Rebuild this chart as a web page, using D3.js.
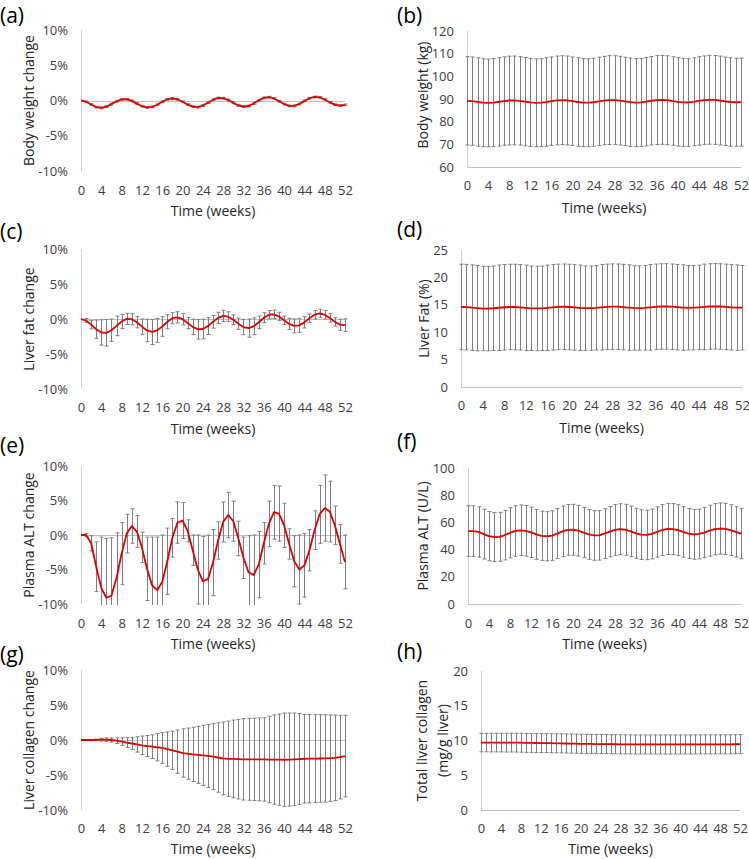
<!DOCTYPE html>
<html><head><meta charset="utf-8">
<script src="https://cdn.jsdelivr.net/npm/d3@7/dist/d3.min.js"></script>
<style>body{margin:0;background:#fff}svg{display:block}</style>
</head><body><svg id="chart" width="749" height="859"></svg>
<script>
// ---------------- DATA ----------------
const weeks = [0,1,2,3,4,5,6,7,8,9,10,11,12,13,14,15,16,17,18,19,20,21,22,23,24,25,26,27,28,29,30,31,32,33,34,35,36,37,38,39,40,41,42,43,44,45,46,47,48,49,50,51,52];
const xTickValues = [0,4,8,12,16,20,24,28,32,36,40,44,48,52];
const pctTicks = [-10,-5,0,5,10];
const bwTicks = [60,70,80,90,100,110,120];
const fatTicks = [0,5,10,15,20,25];
const altTicks = [0,20,40,60,80,100];
const collTicks = [0,5,10,15,20];

// (a) body weight change (%)
const bwChangeMean = [0,-0.17,-0.57,-0.94,-1.05,-0.87,-0.51,-0.11,0.15,0.18,-0.05,-0.44,-0.81,-0.99,-0.91,-0.6,-0.18,0.17,0.3,0.17,-0.18,-0.59,-0.88,-0.94,-0.71,-0.31,0.11,0.36,0.33,0.07,-0.33,-0.7,-0.87,-0.78,-0.43,0.03,0.38,0.47,0.29,-0.1,-0.5,-0.77,-0.76,-0.5,-0.07,0.32,0.51,0.44,0.14,-0.26,-0.59,-0.72,-0.62];
const bwChangeSd = [0,0.1,0.12,0.12,0.13,0.13,0.12,0.12,0.12,0.12,0.12,0.12,0.13,0.13,0.13,0.12,0.12,0.12,0.12,0.12,0.12,0.12,0.13,0.13,0.13,0.12,0.12,0.12,0.12,0.12,0.12,0.12,0.13,0.13,0.12,0.12,0.12,0.12,0.12,0.12,0.12,0.13,0.13,0.12,0.12,0.12,0.12,0.12,0.12,0.12,0.12,0.12,0.12];
// (b) body weight (kg)
const bwMean = [89.2,89.05,88.69,88.36,88.26,88.42,88.75,89.1,89.33,89.36,89.16,88.81,88.48,88.32,88.39,88.66,89.04,89.35,89.47,89.35,89.04,88.67,88.42,88.36,88.57,88.92,89.3,89.52,89.49,89.26,88.91,88.58,88.42,88.5,88.82,89.23,89.54,89.62,89.46,89.11,88.75,88.51,88.52,88.75,89.14,89.49,89.65,89.59,89.32,88.97,88.67,88.56,88.65];
const bwSd = [19.5,19.5,19.5,19.4,19.4,19.4,19.5,19.5,19.6,19.6,19.5,19.5,19.4,19.4,19.4,19.5,19.5,19.6,19.6,19.6,19.5,19.5,19.4,19.4,19.4,19.5,19.5,19.6,19.6,19.6,19.5,19.5,19.4,19.4,19.5,19.5,19.6,19.6,19.6,19.5,19.5,19.4,19.4,19.4,19.5,19.5,19.6,19.6,19.6,19.5,19.5,19.4,19.4];
// (c) liver fat change (%)
const fatChangeMean = [0,-0.22,-0.8,-1.46,-1.92,-1.97,-1.6,-0.98,-0.35,0.02,-0.03,-0.46,-1.09,-1.64,-1.85,-1.63,-1.07,-0.4,0.11,0.24,-0.03,-0.57,-1.13,-1.47,-1.43,-1.01,-0.4,0.16,0.44,0.33,-0.11,-0.68,-1.15,-1.3,-1.04,-0.47,0.18,0.62,0.67,0.36,-0.18,-0.7,-0.98,-0.9,-0.48,0.11,0.61,0.8,0.62,0.15,-0.41,-0.81,-0.88];
const fatChangeSd = [0,0.3,0.6,1.3,1.8,1.9,1.6,1.4,1.0,0.8,0.8,0.8,1.1,1.6,1.8,1.7,1.4,1.0,0.8,0.8,0.8,0.8,1.1,1.4,1.4,1.2,0.9,0.8,0.8,0.7,0.7,0.8,1.1,1.3,1.2,0.9,0.7,0.6,0.6,0.6,0.6,0.8,1.0,1.0,0.8,0.6,0.6,0.6,0.6,0.6,0.6,0.8,0.9];
// (d) liver fat (%)
const fatMean = [14.6,14.57,14.48,14.39,14.32,14.31,14.37,14.46,14.55,14.6,14.6,14.53,14.44,14.36,14.33,14.36,14.44,14.54,14.62,14.64,14.6,14.52,14.44,14.39,14.39,14.45,14.54,14.62,14.66,14.65,14.58,14.5,14.43,14.41,14.45,14.53,14.63,14.69,14.7,14.65,14.57,14.5,14.46,14.47,14.53,14.62,14.69,14.72,14.69,14.62,14.54,14.48,14.47];
const fatSd = [7.8,7.8,7.8,7.8,7.7,7.7,7.7,7.8,7.8,7.8,7.8,7.8,7.8,7.7,7.7,7.7,7.8,7.8,7.8,7.8,7.8,7.8,7.8,7.7,7.7,7.7,7.8,7.8,7.8,7.8,7.8,7.8,7.7,7.7,7.7,7.8,7.8,7.8,7.8,7.8,7.8,7.8,7.7,7.7,7.7,7.8,7.8,7.8,7.8,7.8,7.8,7.8,7.7];
// (e) plasma ALT change (%)
const altChangeMean = [0,0,-1.2,-4.6,-7.7,-9.1,-8.8,-6.2,-2.7,0.2,1.3,0.5,-1.8,-4.9,-7.3,-8.0,-6.8,-3.8,-0.4,1.8,2.1,0.6,-2.2,-5.0,-6.7,-6.4,-4.0,-0.8,1.9,2.9,2.0,-0.5,-3.3,-5.4,-5.8,-4.3,-1.2,1.6,3.3,3.1,1.4,-1.3,-3.8,-5.0,-4.4,-2.2,0.7,3.0,3.9,3.4,1.4,-1.3,-3.9];
const altChangeSd = [0,0.2,1.1,3.6,7.4,8.6,8.4,6.5,4.5,2.8,2.5,2.3,2.2,4.6,7.0,7.7,6.8,4.8,2.8,3.0,2.6,1.6,2.2,5.0,6.5,6.4,4.8,2.7,2.9,3.3,2.9,2.5,3.0,5.3,5.8,4.8,3.0,3.3,3.9,4.0,3.2,2.2,3.7,5.0,4.6,3.0,2.8,4.2,4.8,4.4,2.8,2.8,3.9];
// (f) plasma ALT (U/L)
const altMean = [53.6,53.6,53.0,51.4,49.9,49.2,49.4,50.6,52.3,53.7,54.2,53.8,52.7,51.2,50.1,49.8,50.3,51.8,53.4,54.5,54.6,53.9,52.5,51.2,50.4,50.5,51.7,53.2,54.5,55.0,54.6,53.4,52.0,51.0,50.8,51.5,53.0,54.4,55.2,55.1,54.3,53.0,51.8,51.2,51.5,52.5,53.9,55.0,55.5,55.2,54.3,53.0,51.7];
const altSd = [18.6,18.6,18.5,18.3,18.1,18.0,18.0,18.2,18.4,18.6,18.6,18.6,18.5,18.3,18.1,18.1,18.2,18.4,18.6,18.6,18.7,18.6,18.5,18.3,18.2,18.2,18.3,18.5,18.7,18.7,18.7,18.6,18.4,18.3,18.2,18.3,18.5,18.7,18.8,18.8,18.7,18.6,18.4,18.3,18.3,18.5,18.7,18.8,18.8,18.8,18.7,18.5,18.4];
// (g) liver collagen change (%)
const collChangeMean = [0,0,0,0.02,0.05,0.05,0,-0.1,-0.24,-0.37,-0.5,-0.63,-0.76,-0.86,-0.95,-1.04,-1.14,-1.3,-1.48,-1.67,-1.86,-1.96,-2.05,-2.12,-2.19,-2.28,-2.38,-2.5,-2.62,-2.68,-2.71,-2.74,-2.76,-2.76,-2.76,-2.77,-2.78,-2.79,-2.8,-2.81,-2.82,-2.8,-2.76,-2.72,-2.68,-2.66,-2.65,-2.64,-2.62,-2.6,-2.55,-2.45,-2.3];
const collChangeSd = [0,0.02,0.05,0.1,0.2,0.25,0.3,0.4,0.55,0.7,0.86,1.1,1.33,1.5,1.69,1.95,2.19,2.45,2.74,3.1,3.45,3.66,3.88,4.08,4.29,4.5,4.72,4.96,5.2,5.38,5.55,5.68,5.81,5.85,5.88,5.92,5.96,6.17,6.38,6.52,6.67,6.65,6.62,6.48,6.33,6.3,6.28,6.26,6.24,6.18,6.11,5.97,5.83];
// (h) total liver collagen (mg/g liver)
const collMean = [9.7,9.7,9.7,9.7,9.7,9.7,9.7,9.69,9.68,9.66,9.65,9.64,9.63,9.62,9.61,9.6,9.59,9.57,9.56,9.54,9.52,9.51,9.5,9.49,9.49,9.48,9.47,9.46,9.45,9.44,9.44,9.43,9.43,9.43,9.43,9.43,9.43,9.43,9.43,9.43,9.43,9.43,9.43,9.44,9.44,9.44,9.44,9.44,9.45,9.45,9.45,9.46,9.48];
const collSd = [1.33,1.33,1.34,1.34,1.34,1.35,1.35,1.35,1.36,1.36,1.36,1.36,1.36,1.36,1.37,1.37,1.37,1.37,1.37,1.37,1.37,1.37,1.37,1.37,1.37,1.37,1.37,1.37,1.37,1.37,1.37,1.37,1.37,1.37,1.37,1.37,1.37,1.37,1.37,1.37,1.37,1.37,1.37,1.37,1.37,1.37,1.37,1.37,1.37,1.37,1.37,1.37,1.37];

// ---------------- LAYOUT ----------------
const FONT = '"Open Sans", "Noto Sans", sans-serif';
const panels = [
  {letter:'(a)', mean:bwChangeMean, sd:bwChangeSd, ticks:pctTicks, pct:true, title:['Body weight change'],
   box:{x0:81,x1:345,y0:30,y1:171}, titleX:28, letterX:0, letterY:16, xTickY:190, xTitleY:210},
  {letter:'(b)', mean:bwMean, sd:bwSd, ticks:bwTicks, pct:false, title:['Body weight (kg)'],
   box:{x0:467,x1:741,y0:31,y1:167}, titleX:422, titleY:95, letterX:397, letterY:16, xTickY:185, xTitleY:207},
  {letter:'(c)', mean:fatChangeMean, sd:fatChangeSd, ticks:pctTicks, pct:true, title:['Liver fat change'],
   box:{x0:81,x1:345,y0:249,y1:389}, titleX:28, letterX:0, letterY:232, xTickY:407, xTitleY:428},
  {letter:'(d)', mean:fatMean, sd:fatSd, ticks:fatTicks, pct:false, title:['Liver Fat (%)'],
   box:{x0:461,x1:742,y0:250,y1:387}, titleX:423, letterX:397, letterY:230, xTickY:405, xTitleY:427},
  {letter:'(e)', mean:altChangeMean, sd:altChangeSd, ticks:pctTicks, pct:true, title:['Plasma ALT change'],
   box:{x0:81,x1:345,y0:466,y1:604}, titleX:28, letterX:0, letterY:446, xTickY:623, xTitleY:643},
  {letter:'(f)', mean:altMean, sd:altSd, ticks:altTicks, pct:false, title:['Plasma ALT (U/L)'],
   box:{x0:468,x1:741,y0:468,y1:604}, titleX:422, letterX:397, letterY:442, xTickY:623, xTitleY:643},
  {letter:'(g)', mean:collChangeMean, sd:collChangeSd, ticks:pctTicks, pct:true, title:['Liver collagen change'],
   box:{x0:81,x1:345,y0:670,y1:810}, titleX:28, letterX:0, letterY:655, xTickY:828, xTitleY:848},
  {letter:'(h)', mean:collMean, sd:collSd, ticks:collTicks, pct:false, title:['Total liver collagen','(mg/g liver)'],
   box:{x0:481,x1:740,y0:671,y1:810}, titleX:432, letterX:397, letterY:652, xTickY:828, xTitleY:848}
];

const svg = d3.select('#chart');
svg.append('rect').attr('width',749).attr('height',859).attr('fill','#fff');

panels.forEach((p, i) => {
  const b = p.box;
  const x = d3.scaleLinear().domain(d3.extent(weeks)).range([b.x0, b.x1]);
  const y = d3.scaleLinear().domain(d3.extent(p.ticks)).range([b.y1, b.y0]);
  const g = svg.append('g');

  const cid = 'clip' + i;
  svg.append('clipPath').attr('id', cid).append('rect')
    .attr('x', b.x0 - 6).attr('y', b.y0 - 1)
    .attr('width', b.x1 - b.x0 + 12).attr('height', b.y1 - b.y0 + 2);

  // panel letter (baseline placed below the visual centre)
  g.append('text').text(p.letter)
    .attr('x', p.letterX).attr('y', p.letterY + 7)
    .attr('font-family', FONT).attr('font-size', 21).attr('fill', '#000');

  // axis lines
  g.append('line')
    .attr('x1', x(0) + 0.5).attr('x2', x(0) + 0.5)
    .attr('y1', b.y0).attr('y2', b.y1)
    .attr('stroke', '#d0d0d0').attr('stroke-width', 1);
  const base = p.pct ? 0 : y.domain()[0];
  g.append('line')
    .attr('x1', x(0)).attr('x2', x(52))
    .attr('y1', Math.round(y(base)) + 0.5).attr('y2', Math.round(y(base)) + 0.5)
    .attr('stroke', '#bfbfbf').attr('stroke-width', 1);

  // y axis labels
  const yAxis = d3.axisLeft(y).tickValues(p.ticks).tickSize(0).tickPadding(13)
    .tickFormat(p.pct ? d => d + '%' : d => String(d));
  const ya = g.append('g').attr('transform', `translate(${x(0)},0)`).call(yAxis);
  ya.select('.domain').remove();
  ya.attr('font-family', FONT).attr('font-size', 13);
  ya.selectAll('text').attr('fill', '#404040');

  // x axis labels
  const xAxis = d3.axisBottom(x).tickValues(xTickValues).tickSize(0).tickPadding(0);
  const xa = g.append('g').attr('transform', `translate(0,${p.xTickY})`).call(xAxis);
  xa.select('.domain').remove();
  xa.attr('font-family', FONT).attr('font-size', 13);
  xa.selectAll('text').attr('fill', '#404040').attr('y', 0).attr('dy', '0.35em');

  // x title
  g.append('text').text('Time (weeks)')
    .attr('x', (b.x0 + b.x1) / 2).attr('y', p.xTitleY)
    .attr('text-anchor', 'middle').attr('dominant-baseline', 'central')
    .attr('font-family', FONT).attr('font-size', 14).attr('fill', '#262626');

  // y title
  const ty = p.titleY !== undefined ? p.titleY : (b.y0 + b.y1) / 2;
  const yt = g.append('text')
    .attr('transform', `translate(${p.titleX},${ty}) rotate(-90)`)
    .attr('text-anchor', 'middle')
    .attr('font-family', FONT).attr('font-size', 14).attr('fill', '#262626');
  const n = p.title.length;
  p.title.forEach((t, k) => {
    yt.append('tspan').text(t).attr('x', 0)
      .attr('y', (k - (n - 1) / 2) * 21)
      .attr('dominant-baseline', 'central');
  });

  // error bars
  const eb = g.append('g').attr('clip-path', `url(#${cid})`)
    .attr('stroke', '#7f7f7f').attr('stroke-width', 1).attr('fill', 'none');
  const bars = eb.selectAll('g.bar').data(weeks.map((w, k) => ({w, m: p.mean[k], s: p.sd[k]})))
    .join('g').attr('class', 'bar');
  bars.filter(d => d.s > 0).append('line')
    .attr('x1', d => Math.round(x(d.w)) + 0.5).attr('x2', d => Math.round(x(d.w)) + 0.5)
    .attr('y1', d => y(d.m + d.s)).attr('y2', d => y(d.m - d.s));
  bars.filter(d => d.s > 0).append('line')
    .attr('x1', d => Math.round(x(d.w)) - 1.5).attr('x2', d => Math.round(x(d.w)) + 2.5)
    .attr('y1', d => y(d.m + d.s)).attr('y2', d => y(d.m + d.s));
  bars.filter(d => d.s > 0).append('line')
    .attr('x1', d => Math.round(x(d.w)) - 1.5).attr('x2', d => Math.round(x(d.w)) + 2.5)
    .attr('y1', d => y(d.m - d.s)).attr('y2', d => y(d.m - d.s));

  // mean line
  const line = d3.line().x((d, k) => x(weeks[k])).y(d => y(d));
  g.append('path').datum(p.mean)
    .attr('d', line)
    .attr('clip-path', `url(#${cid})`)
    .attr('fill', 'none').attr('stroke', '#e00000').attr('stroke-width', 1.8)
    .attr('stroke-linejoin', 'round');
});
</script>
</body></html>
